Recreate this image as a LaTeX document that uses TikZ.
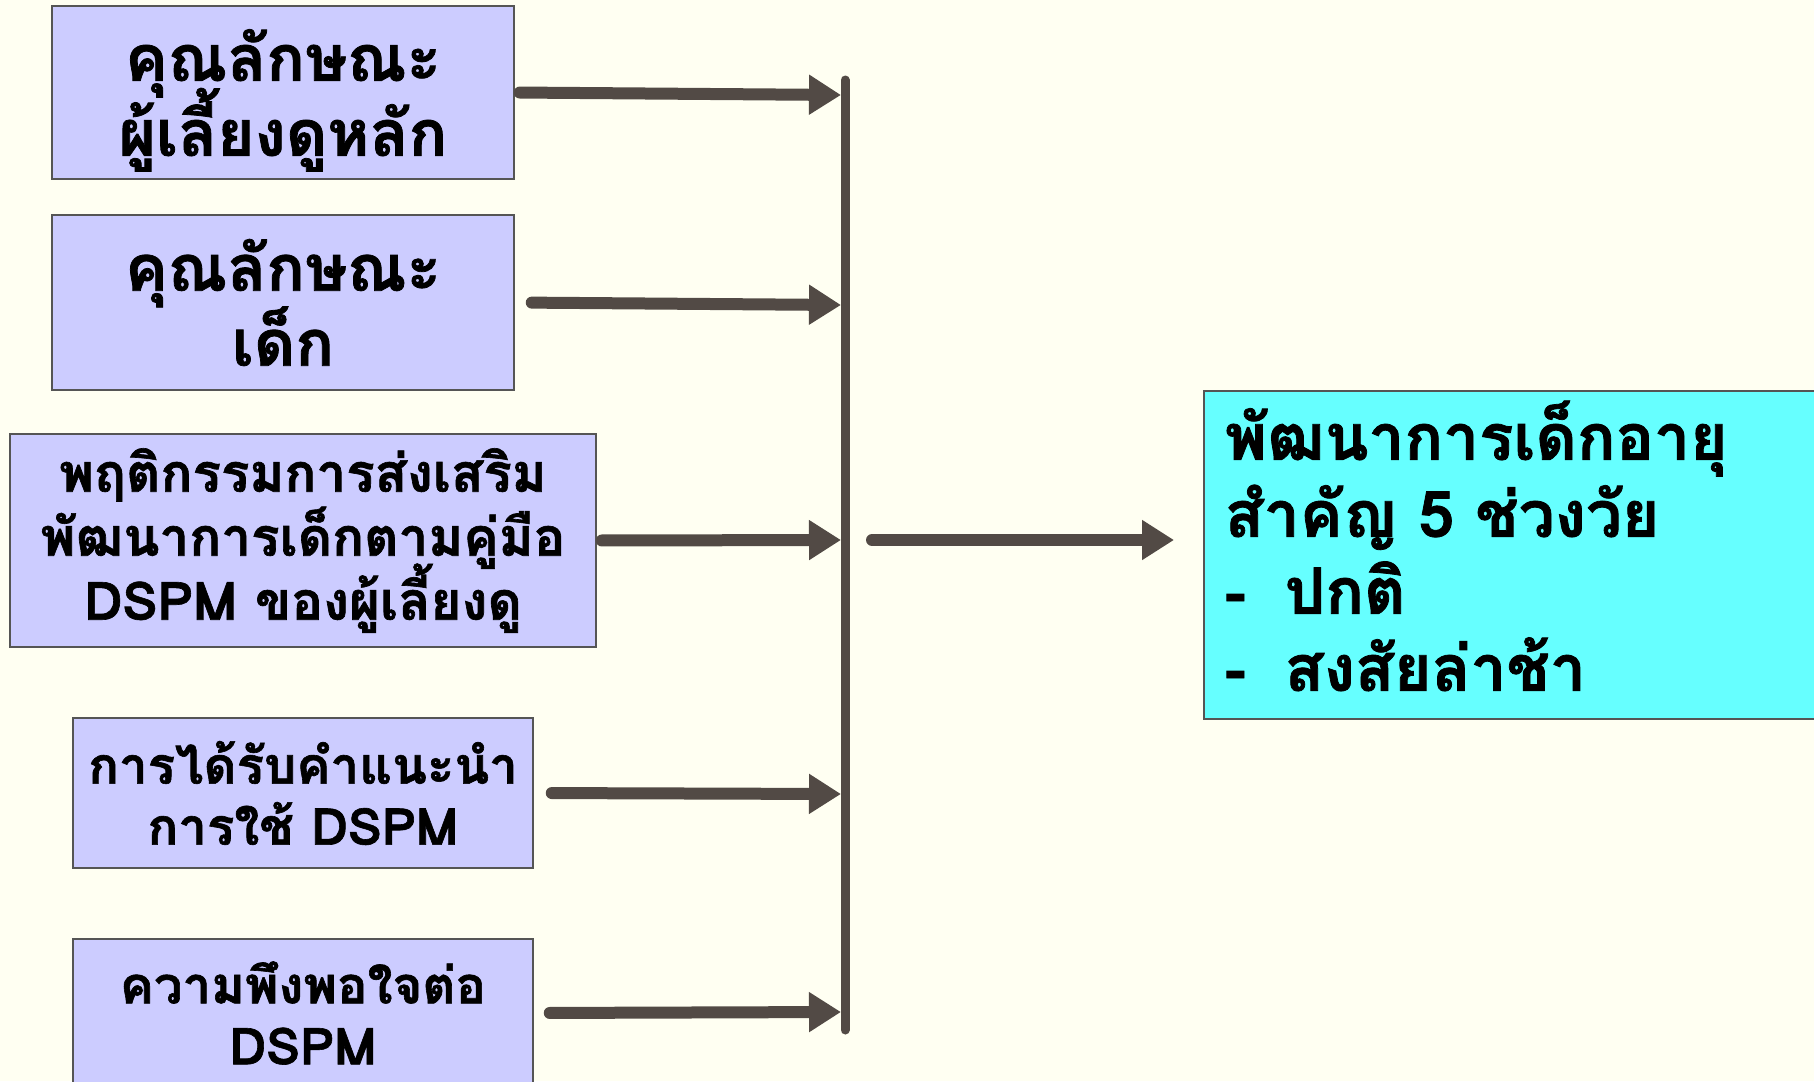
\documentclass[tikz,border=0pt]{standalone}
\usepackage{fontspec}
\newfontfamily\thaifont[Script=Thai, BoldFeatures={FakeBold=1.2}]{Loma}
\usetikzlibrary{arrows.meta}
\definecolor{paper}{HTML}{FFFFF2}
\definecolor{lavender}{HTML}{CCCCFF}
\definecolor{aqua}{HTML}{66FFFF}
\definecolor{edge}{HTML}{555555}
\definecolor{shaft}{HTML}{524A45}
\newcommand{\tightlines}{\lineskip=0pt\lineskiplimit=-100pt}

\begin{document}
\begin{tikzpicture}[x=1pt, y=-1pt,
  factor/.style={draw=edge, line width=1.5pt, fill=lavender, align=center, inner sep=0pt},
  outcome/.style={draw=edge, line width=1.5pt, fill=aqua, align=left, inner sep=0pt, anchor=north west},
  bigtext/.style={font=\thaifont\bfseries\fontsize{64}{75}\selectfont\tightlines},
  midtext/.style={font=\thaifont\bfseries\fontsize{53}{64}\selectfont\tightlines},
  smalltext/.style={font=\thaifont\bfseries\fontsize{51}{61}\selectfont\tightlines},
  resulttext/.style={font=\thaifont\bfseries\fontsize{64}{77}\selectfont\tightlines},
  feed/.style={draw=shaft, line width=12pt, line cap=round, shorten <=5pt, -{Triangle[length=32pt,width=38pt]}},
  bar/.style={draw=shaft, line width=9pt, line cap=round}]
\fill[paper] (0,0) rectangle (1814,1081);
\useasboundingbox (0,0) rectangle (1814,1081);

\node[factor, bigtext, minimum width=462pt, minimum height=173pt, text depth=0pt] (carer) at (283,92.5) {คุณลักษณะ\\ผู้เลี้ยงดูหลัก};
\node[factor, bigtext, minimum width=462pt, minimum height=175pt] (child) at (283,302.5) {คุณลักษณะ\\เด็ก};
\node[factor, midtext, minimum width=586pt, minimum height=213pt] (promote) at (303,540.5) {พฤติกรรมการส่งเสริม\\พัฒนาการเด็กตามคู่มือ\\DSPM ของผู้เลี้ยงดู};
\node[factor, smalltext, minimum width=460pt, minimum height=150pt] (advice) at (303,793) {การได้รับคำแนะนำ\\การใช้ DSPM};
\node[factor, smalltext, minimum width=460pt, minimum height=148pt] (satisfy) at (303,1013) {ความพึงพอใจต่อ\\DSPM};
\node[outcome, resulttext, minimum width=640pt, minimum height=328pt, text width=598pt, inner xsep=21pt] (result) at (1203,390) {พัฒนาการเด็กอายุ\\สำคัญ 5 ช่วงวัย\\\makebox[60pt][l]{-}ปกติ\\\makebox[60pt][l]{-}สงสัยล่าช้า\rule[-18pt]{0pt}{1pt}};

\coordinate (bartop) at (845,80);
\coordinate (barbot) at (845,1030);
\coordinate (j1) at (841,95);
\coordinate (j2) at (841,305);
\coordinate (j3) at (841,540);
\coordinate (j4) at (841,794);
\coordinate (j5) at (841,1012);
\coordinate (hub) at (867,540);

\draw[bar] (bartop) -- (barbot);
\draw[feed] (carer.east) -- (j1);
\draw[feed, shorten <=17pt] (child.east) -- (j2);
\draw[feed] (promote.east) -- (j3);
\draw[feed, shorten <=18pt] (advice.east) -- (j4);
\draw[feed, shorten <=16pt] (satisfy.east) -- (j5);
\draw[feed, shorten >=29pt] (hub) -- (result.west |- hub);
\end{tikzpicture}
\end{document}
